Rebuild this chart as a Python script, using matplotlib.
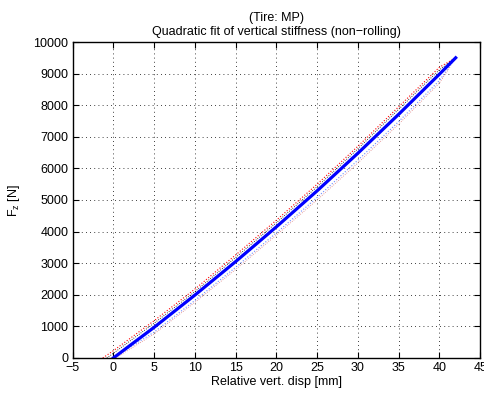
import numpy as np
import matplotlib.pyplot as plt

plt.rcParams['font.family'] = ['Liberation Sans', 'DejaVu Sans']
plt.rcParams['mathtext.fontset'] = 'custom'
plt.rcParams['mathtext.rm'] = 'Liberation Sans'

# quadratic fit of vertical force vs. displacement
fit_disp = [0, 5, 10, 15, 20, 25, 30, 35, 40, 42]
fit_force = [0, 970, 1990, 3050, 4150, 5290, 6480, 7710, 8980, 9500]

# measured traces (loading / unloading)
up_disp = [-1.3, 0, 5, 10, 15, 20, 25, 30, 35, 40, 42]
up_force = [0, 230, 1180, 2180, 3260, 4360, 5500, 6700, 7950, 9200, 9500]
up2_disp = [-0.8, 0, 5, 10, 15, 20, 25, 30, 35, 40, 42]
up2_force = [0, 150, 1100, 2100, 3180, 4280, 5420, 6620, 7870, 9120, 9500]
lo_disp = [0, 5, 10, 15, 20, 25, 30, 35, 40, 41.6]
lo_force = [0, 820, 1820, 2870, 3960, 5080, 6260, 7480, 8780, 9350]
lo2_disp = [0.3, 5, 10, 15, 20, 25, 30, 35, 40, 41.4]
lo2_force = [0, 760, 1760, 2800, 3890, 5000, 6170, 7400, 8700, 9250]

fig = plt.figure(figsize=(4.84, 3.94), dpi=100)
ax = fig.add_axes([0.150, 0.0914, 0.842, 0.802])

ax.plot(up_disp, up_force, ':', color='red', lw=0.8)
ax.plot(up2_disp, up2_force, ':', color='black', lw=0.6)
ax.plot(lo_disp, lo_force, ':', color='#6f8cff', lw=0.8)
ax.plot(lo2_disp, lo2_force, ':', color='#e08080', lw=0.6)
ax.plot(fit_disp, fit_force, '-', color='blue', lw=2.3)

ax.set_xlim(-5, 45)
ax.set_ylim(0, 10000)
ax.set_xticks(np.arange(-5, 46, 5))
ax.set_yticks(np.arange(0, 10001, 1000))
ax.set_xticklabels(['\u22125'] + [str(v) for v in range(0, 46, 5)])
ax.grid(True, linestyle=(0, (1, 4)), color='black', lw=0.6)
ax.tick_params(direction='in', top=True, right=True, labelsize=9, length=4, pad=3)
for s in ax.spines.values():
    s.set_linewidth(1.0)

ax.set_xlabel('Relative vert. disp [mm]', fontsize=9, labelpad=1)
ax.set_ylabel('F$_\\mathregular{z}$ [N]', fontsize=9, labelpad=8)
ax.set_title('(Tire: MP)\nQuadratic fit of vertical stiffness (non\u2212rolling)', fontsize=9, pad=5)

fig.savefig('out.png', dpi=100)
